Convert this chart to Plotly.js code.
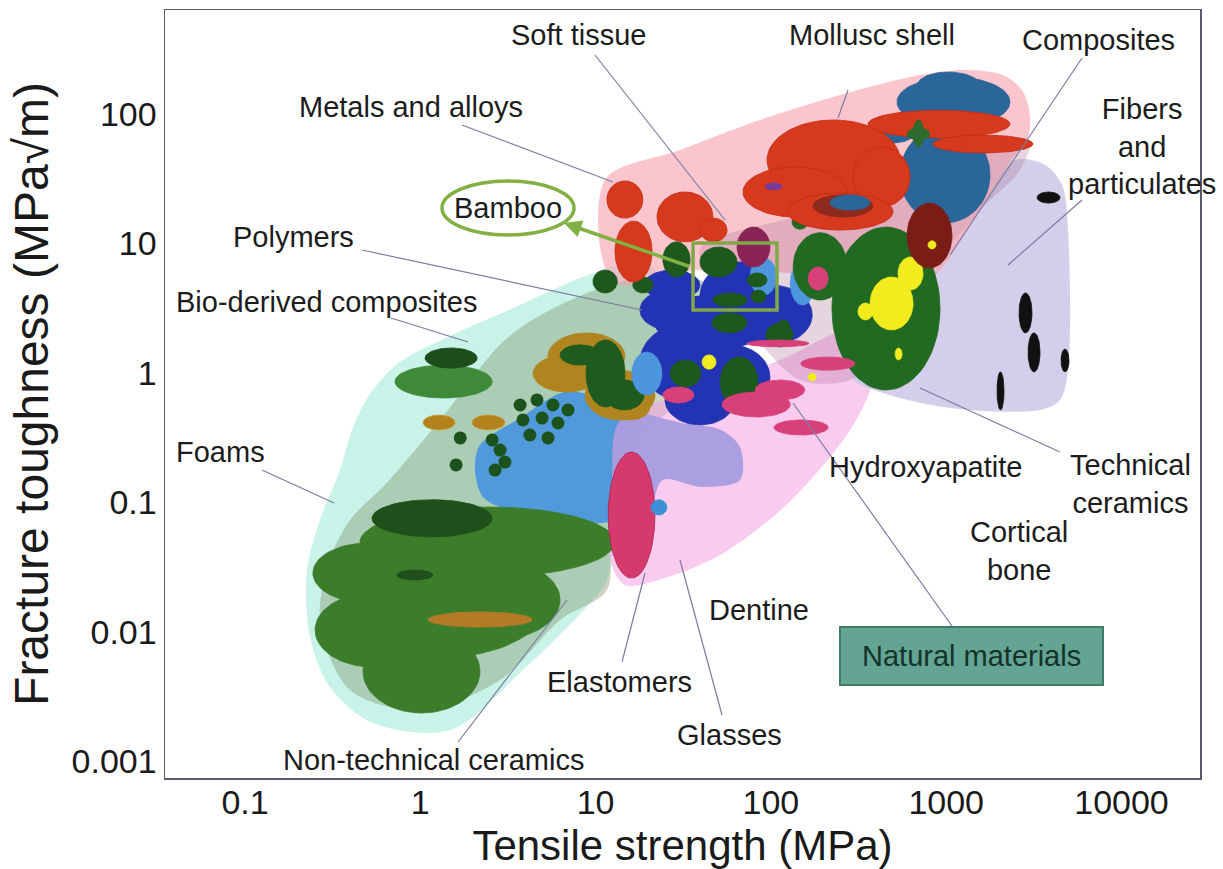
<!DOCTYPE html>
<html><head><meta charset="utf-8">
<script src="https://cdn.plot.ly/plotly-3.0.1.min.js"></script>
<style>html,body{margin:0;padding:0;background:#fff}#chart{width:1223px;height:869px}</style>
</head><body><div id="chart"></div>
<script>
// ---------- DATA (tensile strength in MPa, fracture toughness in MPa·√m) ----------
// Envelope outlines (vertex lists)
const foamsEnvX   = [0.348,0.408,0.503,0.746,1.44,3.71,9.05,19.1,24.9,20.4,14.7,11.6,9.29,3.85,1.48,0.537,0.305,0.235,0.226,0.268];
const foamsEnvY   = [0.178,0.363,0.653,1.19,1.90,3.35,5.71,7.20,4.37,0.883,0.178,0.0252,0.0167,0.00509,0.00175,0.00198,0.00376,0.00915,0.0301,0.0733];
const nonTechEnvX = [0.397,0.629,1.30,3.04,6.27,17.9,51.3,39.4,17.9,12.1,11.6,6.27,2.85,1.0,0.397,0.268,0.305];
const nonTechEnvY = [0.0733,0.137,0.434,1.80,3.35,5.42,4.37,0.883,0.304,0.0733,0.0211,0.0124,0.00426,0.0025,0.00357,0.0124,0.036];
const polyEnvX    = [2.19,3.71,6.69,12.1,18.9,31.1,51.9,66.6,66.6,39.9,24.2,19.9,14.7,8.93,5.35,3.25,2.28,2.05];
const polyEnvY    = [0.278,0.449,0.713,0.619,0.491,0.411,0.363,0.268,0.149,0.132,0.149,0.083,0.0733,0.0695,0.083,0.0875,0.110,0.178];
const glassEnvX   = [13.8,39.4,113,283,403,368,283,178,106,51.3,24.9,14.7,12.1,12.4];
const glassEnvY   = [0.434,0.739,1.26,2.15,1.65,0.739,0.363,0.163,0.0801,0.0393,0.0261,0.0231,0.036,0.149];
const fiberEnvX   = [2469,3661,4578,4953,4953,4459,3429,1051,419,290,322,545,984,1665];
const fiberEnvY   = [44.1,40.4,28.3,12.7,1.05,0.619,0.518,0.537,0.713,0.915,1.80,3.66,8.15,21.7];
const metalEnvX   = [11.3,30.3,86.7,272,709,1247,2109,2743,3006,2891,2311,1559,1123,863,419,147,39.4,12.6];
const metalEnvY   = [30.9,52.7,89.9,145,200,219,200,148,94.8,63.0,42.6,18.1,8.91,5.71,3.66,5.71,6.24,5.04];
const compEnvX    = [39.4,147,545,1778,3006,2636,1559,922,545,368,283,147,76];
const compEnvY    = [8.91,16.6,33.8,52.7,63,36.9,18.1,7.46,3.07,1.26,0.883,0.883,2.15];

// Material bubbles: [strength min, strength max, toughness min, toughness max]
const ntcGreen  = [[0.453,12.9,0.0266,0.0923],[0.244,1.04,0.0167,0.0487],[0.251,1.14,0.00537,0.0200],[0.471,2.19,0.00237,0.0104],[0.348,5.49,0.00641,0.0542],[1.14,6.27,0.00868,0.036]];
const ntcDark   = [[0.53,2.57,0.0542,0.105],[0.736,1.18,0.0252,0.0301]];
const ntcBrown  = [[1.106,4.34,0.0109,0.0143]];
const bioGreen  = [[0.717,2.57,0.641,1.15]];
const bioDark   = [[1.064,2.11,1.09,1.56]];
const bioBrown  = [[1.036,1.58,0.363,0.474],[1.97,3.04,0.363,0.474]];
const bioDotX   = [3.71,4.63,5.71,6.96,3.85,4.95,6.10,4.22,5.35,2.57,2.85,3.04,2.67,1.69,1.60];
const bioDotY   = [0.566,0.619,0.566,0.518,0.434,0.449,0.411,0.332,0.315,0.304,0.254,0.205,0.178,0.315,0.195];
const woodBrown = [[5.35,14.7,0.883,2.04],[4.40,10.6,0.713,1.38],[8.70,21.8,0.434,1.05],[12.1,20.4,0.434,0.676]];
const woodDark  = [[8.82,14.7,0.546,1.80],[11.3,18.9,0.518,0.883],[6.27,10.6,1.15,1.65]];
const polyBlue  = [[18.9,39.4,3.66,6.24],[17.9,39.4,2.15,4.37],[21.8,98.8,1.51,4.00],[17.9,54.7,0.619,2.35],[39.4,113,2.15,7.20],[58.4,172,1.65,4.78],[34.6,98.8,0.518,1.65],[24.9,62.4,0.397,0.965]];
const polyLight = [[76.0,108,4.00,7.73],[129,178,3.35,7.20],[16.1,23.9,0.676,1.45]];
const polyDark  = [[24.2,34.6,5.51,10.3],[39.4,64.1,5.51,9.40],[73.1,95.0,4.61,5.92],[46.7,73.1,3.23,4.15],[108,129,1.90,2.57],[93.8,134,1.59,2.43],[46.1,73.1,2.04,2.91],[51.3,84.4,0.546,1.33],[26.6,39.9,0.780,1.26],[16.3,21.3,4.15,5.51],[9.66,13.3,4.15,6.24],[77.0,93.8,3.47,4.37]];
const elastomer = [[11.8,21.8,0.0261,0.245]];
const smallBlue = [[20.7,25.5,0.0801,0.105]];
const techGreen = [[223,922,0.739,13.4],[134,272,3.66,12.1],[132,163,12.9,16.6]];
const pinkBub   = [[104,212,0.332,0.434],[148,302,1.05,1.33],[52.6,129,0.457,0.713],[81.2,156,0.619,0.883],[24.2,36.4,0.587,0.780],[73.1,165,1.59,1.80],[163,212,4.37,6.58]];
const yellowBub = [[40.5,48.6,1.07,1.38],[163,181,0.868,1.0],[531,737,4.37,7.87],[368,647,2.15,5.51],[314,382,2.57,3.47],[511,560,1.26,1.56]];
const steelBlue = [[524,2311,79.4,193],[681,1559,128,211],[545,1778,14.4,79.4],[368,647,59.7,79.4]];
const metalRed  = [[11.6,18.6,15.7,30.4],[12.9,21.0,5.04,14.9],[22.4,46.7,10.3,25.0],[39.4,56.2,10.3,15.7],[95.0,545,21.7,89.9],[69.3,272,16.0,39.0],[294,622,19.1,55.6],[124,497,12.7,24.5],[358,2311,65.3,107],[841,3127,50.0,68.8]];
const metalDark = [[174,382,16.0,23.7]];
const steelFront= [[217,368,18.1,23.7]];
const purpleBub = [[92.5,116,25.9,29.3]];
const crossGreen= [[598,808,63.0,78.0],[647,747,55.6,89.9]];
const maroonBub = [[598,1079,6.47,20.5]];
const mauveBub  = [[64.1,98.8,6.58,13.4]];
const yellowTop = [[787,875,9.07,10.5]];
const fiberBlack= [[3296,4459,20.5,25.0],[2602,3086,2.04,4.15],[2929,3429,1.02,2.04],[4518,5018,1.02,1.53],[1949,2137,0.518,1.02]];

const xTickVals = [0.1,1,10,100,1000,10000];
const xTickText = ['0.1','1','10','100','1000','10000'];
const yTickVals = [0.001,0.01,0.1,1,10,100];
const yTickText = ['0.001','0.01','0.1','1','10','100'];

// ---------- BUILD ----------
const traces = [];
function env(xs, ys, color){
  traces.push({type:'scatter', mode:'lines', x:xs.concat([xs[0]]), y:ys.concat([ys[0]]),
    fill:'toself', fillcolor:color, line:{color:'rgba(0,0,0,0)', width:0.5, shape:'spline', smoothing:0.9},
    hoverinfo:'skip', showlegend:false});
}
function bubbles(list, color, edge){
  list.forEach(r => {
    const lx0=Math.log10(r[0]), lx1=Math.log10(r[1]), ly0=Math.log10(r[2]), ly1=Math.log10(r[3]);
    const cx=(lx0+lx1)/2, cy=(ly0+ly1)/2, ax=(lx1-lx0)/2, ay=(ly1-ly0)/2;
    const xs=[], ys=[];
    for(let i=0;i<=72;i++){const t=2*Math.PI*i/72; xs.push(Math.pow(10,cx+ax*Math.cos(t))); ys.push(Math.pow(10,cy+ay*Math.sin(t)));}
    traces.push({type:'scatter', mode:'lines', x:xs, y:ys, fill:'toself', fillcolor:color,
      line:{color:edge||color, width:0.8}, hoverinfo:'skip', showlegend:false});
  });
}

env(foamsEnvX, foamsEnvY, 'rgba(178,236,222,0.70)');
env(nonTechEnvX, nonTechEnvY, 'rgba(128,150,105,0.40)');
env(polyEnvX, polyEnvY, 'rgba(72,150,222,0.92)');
env(glassEnvX, glassEnvY, 'rgba(244,160,226,0.55)');
env(fiberEnvX, fiberEnvY, 'rgba(206,202,232,0.90)');
env(metalEnvX, metalEnvY, 'rgba(248,158,172,0.60)');
env(compEnvX, compEnvY, 'rgba(170,115,150,0.30)');

bubbles(ntcGreen, '#3c7d2c');
bubbles(ntcDark, '#1f4f1b');
bubbles(ntcBrown, '#b57a26');
bubbles(bioGreen, '#3f8a38');
bubbles(bioDark, '#1d4d1b');
bubbles(bioBrown, '#b3821c', '#c9a040');
traces.push({type:'scatter', mode:'markers', x:bioDotX, y:bioDotY,
  marker:{size:13, color:'#1c521c'}, hoverinfo:'skip', showlegend:false});
bubbles(woodBrown, '#b08520');
bubbles(woodDark, '#1f5a1f');
bubbles(polyBlue, '#2233b4');
bubbles(polyLight, '#4d95dc');
bubbles(polyDark, '#1d581d');
bubbles(elastomer, '#d43a6c', '#b02050');
bubbles(smallBlue, '#3a8fd5');
bubbles(techGreen, '#226a22');
bubbles(pinkBub, '#d8407a');
bubbles(yellowBub, '#f2ec1e');
bubbles(steelBlue, '#2a6699');
bubbles(metalRed, '#d6391c', '#c02c14');
bubbles(metalDark, '#8c2a1e');
bubbles(steelFront, '#2a6699');
bubbles(purpleBub, '#7a3a9a');
bubbles(crossGreen, '#2d6a2d');
bubbles(maroonBub, '#7b1d17');
bubbles(mauveBub, '#8b2456');
bubbles(yellowTop, '#f2ec1e');
bubbles(fiberBlack, '#111111');

// ---------- LAYOUT ----------
const PL=165, PR=1200, PT=10, PB=778;
const px = v => (v-PL)/(PR-PL);
const py = v => (PB-v)/(PB-PT);
const lab = 'Liberation Sans, Arial, sans-serif';
const labels = [
  ['Soft tissue',578,35],['Mollusc shell',872,35],['Composites',1098,40],['Metals and alloys',411,107],
  ['Fibers<br>and<br>particulates',1142,147],['Polymers',293,237],['Bamboo',508,208],
  ['Bio-derived composites',326,302],['Foams',220,452],['Hydroxyapatite',925,467],
  ['Technical<br>ceramics',1130,484],['Cortical<br>bone',1019,551],['Dentine',759,610],
  ['Elastomers',619,682],['Glasses',729,735],['Non-technical ceramics',433,760]
];
const leaders = [
  [462,125,613,182],[595,55,725,220],[848,90,838,118],[1082,58,950,255],[1082,200,1008,265],
  [362,250,642,310],[391,318,468,342],[262,470,334,503],[793,403,957,633],[1060,452,920,388],
  [680,560,722,715],[622,662,645,573],[458,742,567,600]
];
const annotations = labels.map(l => ({xref:'paper', yref:'paper', x:px(l[1]), y:py(l[2]),
  xanchor:'center', yanchor:'middle', text:l[0], showarrow:false,
  font:{family:lab, size:29, color:'#1c1c1c'}}));
annotations.push({xref:'paper', yref:'paper', x:px(971), y:py(656), xanchor:'center', yanchor:'middle',
  text:'Natural materials', showarrow:false, font:{family:lab, size:29, color:'#15332a'}});
annotations.push({xref:'paper', yref:'paper', x:px(564), y:py(223), text:'', showarrow:true,
  ax:127, ay:44, arrowhead:2, arrowsize:1, arrowwidth:3.5, arrowcolor:'#82b043', standoff:0});

const shapes = leaders.map(s => ({type:'line', xref:'paper', yref:'paper',
  x0:px(s[0]), y0:py(s[1]), x1:px(s[2]), y1:py(s[3]), line:{color:'#7c7ca0', width:1.2}}));
shapes.push({type:'rect', xref:'paper', yref:'paper', x0:px(693), x1:px(777), y0:py(310), y1:py(243),
  line:{color:'#80a848', width:3.5}});
shapes.push({type:'circle', xref:'paper', yref:'paper', x0:px(442), x1:px(574), y0:py(235), y1:py(181),
  line:{color:'#82b043', width:3.5}, fillcolor:'rgba(255,255,255,0)'});
shapes.push({type:'rect', xref:'paper', yref:'paper', x0:px(840), x1:px(1103), y0:py(685), y1:py(627),
  line:{color:'#3f7a68', width:2}, fillcolor:'#63a592'});

const axisCommon = {type:'log', showgrid:false, zeroline:false, showline:true, mirror:true,
  linecolor:'#5a5a6e', linewidth:1.5, ticks:'', automargin:false, fixedrange:true,
  tickfont:{family:lab, size:34, color:'#1a1a1a'}};

const layout = {
  width:1223, height:869, margin:{l:PL, r:1223-PR, t:PT, b:869-PB},
  paper_bgcolor:'#ffffff', plot_bgcolor:'#ffffff', showlegend:false,
  xaxis:Object.assign({}, axisCommon, {range:[-1.4564,4.4478], tickmode:'array', tickvals:xTickVals, ticktext:xTickText,
    ticklabelstandoff:-6,
    title:{text:'Tensile strength (MPa)', font:{family:lab, size:42, color:'#1a1a1a'}, standoff:14}}),
  yaxis:Object.assign({}, axisCommon, {range:[-3.1274,2.803], tickmode:'array', tickvals:yTickVals, ticktext:yTickText,
    ticklabelstandoff:0,
    title:{text:'Fracture toughness (MPa√m)', font:{family:lab, size:48, color:'#1a1a1a'}, standoff:8}}),
  annotations:annotations, shapes:shapes
};

Plotly.newPlot('chart', traces, layout, {staticPlot:true, displayModeBar:false});
</script></body></html>
